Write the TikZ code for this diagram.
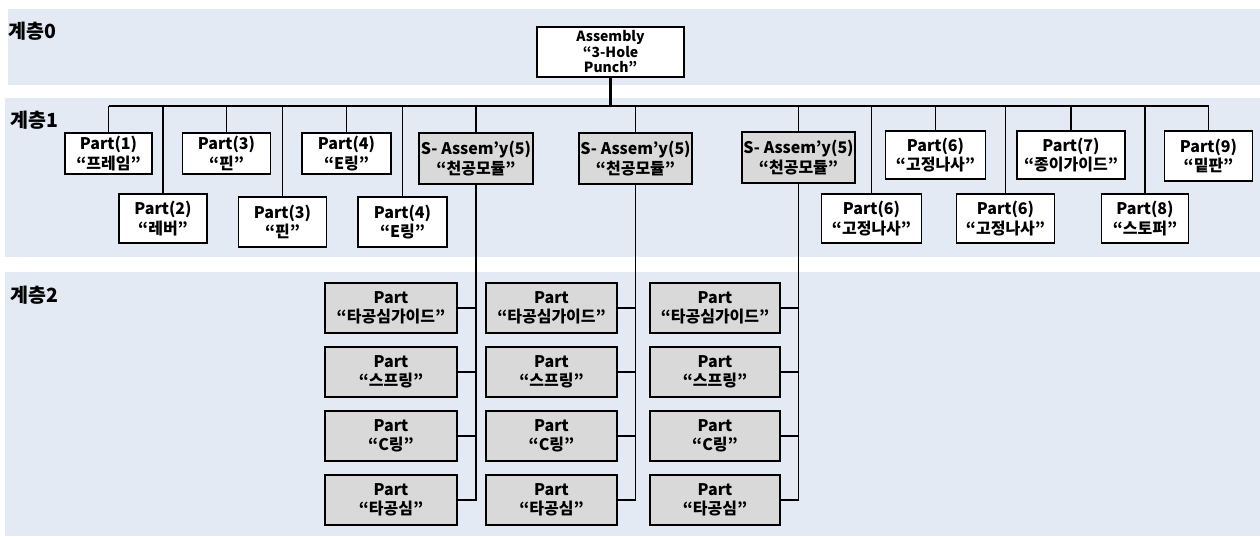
\documentclass[tikz,border=0pt]{standalone}
\usepackage{fontspec}
\setmainfont{Noto Sans CJK KR}
\begin{document}
\begin{tikzpicture}[x=1pt,y=-1pt,
  band/.style={fill=bandblue,draw=none},
  lvl/.style={anchor=west,font=\bfseries\fontsize{19.5}{21}\selectfont,inner sep=0pt},
  box/.style={draw=black,line width=1.8pt,align=center,inner sep=0pt,
    font=\bfseries\fontsize{16}{19.5}\selectfont},
  part/.style={box,fill=white},
  sub/.style={box,fill=boxgray},
  link/.style={line width=1.4pt},
  bus/.style={line width=2.8pt}]
\definecolor{bandblue}{HTML}{E3EAF4}
\definecolor{boxgray}{HTML}{D9D9D9}
\useasboundingbox (0,0) rectangle (1260,536);
\fill[white] (0,0) rectangle (1260,536);

% level bands
\path[band] (8,9) rectangle (1260,85);
\path[band] (5,98) rectangle (1260,257);
\path[band] (5,272) rectangle (1260,536);
\node[lvl] (l0) at (8,31) {계층0};
\node[lvl] (l1) at (10,120) {계층1};
\node[lvl] (l2) at (10,295) {계층2};

% level 0
\node[part,minimum width=147,minimum height=50,
  font=\bfseries\fontsize{14}{15.5}\selectfont] (root) at (610.5,52)
  {Assembly\\“3-Hole\\Punch”};

% level 1
\node[part,minimum width=87,minimum height=41] (p1) at (108.5,153.5) {Part(1)\\“프레임”};
\node[part,minimum width=88,minimum height=49] (p2) at (163,218.5) {Part(2)\\“레버”};
\node[part,minimum width=88,minimum height=41] (p3a) at (226.5,153.5) {Part(3)\\“핀”};
\node[part,minimum width=88,minimum height=50] (p3b) at (282.5,222) {Part(3)\\“핀”};
\node[part,minimum width=89,minimum height=41] (p4a) at (346.5,153.5) {Part(4)\\“E링”};
\node[part,minimum width=89,minimum height=50] (p4b) at (402.5,222) {Part(4)\\“E링”};
\node[sub,minimum width=114,minimum height=51] (s1) at (476,158.5) {S- Assem’y(5)\\“천공모듈”};
\node[sub,minimum width=113,minimum height=51] (s2) at (635.5,158.5) {S- Assem’y(5)\\“천공모듈”};
\node[sub,minimum width=113,minimum height=51] (s3) at (798.5,157.5) {S- Assem’y(5)\\“천공모듈”};
\node[part,minimum width=100,minimum height=49] (p6a) at (871.5,218.5) {Part(6)\\“고정나사”};
\node[part,minimum width=100,minimum height=48] (p6b) at (935.5,155) {Part(6)\\“고정나사”};
\node[part,minimum width=98,minimum height=49] (p6c) at (1005.5,218.5) {Part(6)\\“고정나사”};
\node[part,minimum width=108,minimum height=48] (p7) at (1071,155) {Part(7)\\“종이가이드”};
\node[part,minimum width=87,minimum height=49] (p8) at (1145,218.5) {Part(8)\\“스토퍼”};
\node[part,minimum width=88,minimum height=50] (p9) at (1208.5,156) {Part(9)\\“밑판”};

% level 2 : one column under each punch module
\foreach \c/\x/\w in {a/391/132, b/551.5/131, c/715/130}{
  \node[sub,minimum width=\w,minimum height=50] (\c1) at (\x,308) {Part\\“타공심가이드”};
  \node[sub,minimum width=\w,minimum height=50] (\c2) at (\x,372) {Part\\“스프링”};
  \node[sub,minimum width=\w,minimum height=50] (\c3) at (\x,436) {Part\\“C링”};
  \node[sub,minimum width=\w,minimum height=50] (\c4) at (\x,500) {Part\\“타공심”};
}

% connectors, level 0 -> level 1
\coordinate (busL) at (108.5,106);
\coordinate (busR) at (1208.5,106);
\draw[bus] (busL) -- (busR);
\draw[bus] (root.south) -- (root.south |- busL);
\foreach \n in {p1,p2,p3a,p3b,p4a,p4b,s1,s2,s3,p6a,p6b,p6c,p7,p8,p9}
  \draw[link] (busL -| \n.north) -- (\n.north);

% connectors, level 1 -> level 2
\foreach \s/\c in {s1/a, s2/b, s3/c}{
  \draw[link] (\s.south) |- (\c4.east);
  \foreach \r in {1,2,3}
    \draw[link] (\c\r.east) -- (\c\r.east -| \s.south);
}
\end{tikzpicture}
\end{document}
